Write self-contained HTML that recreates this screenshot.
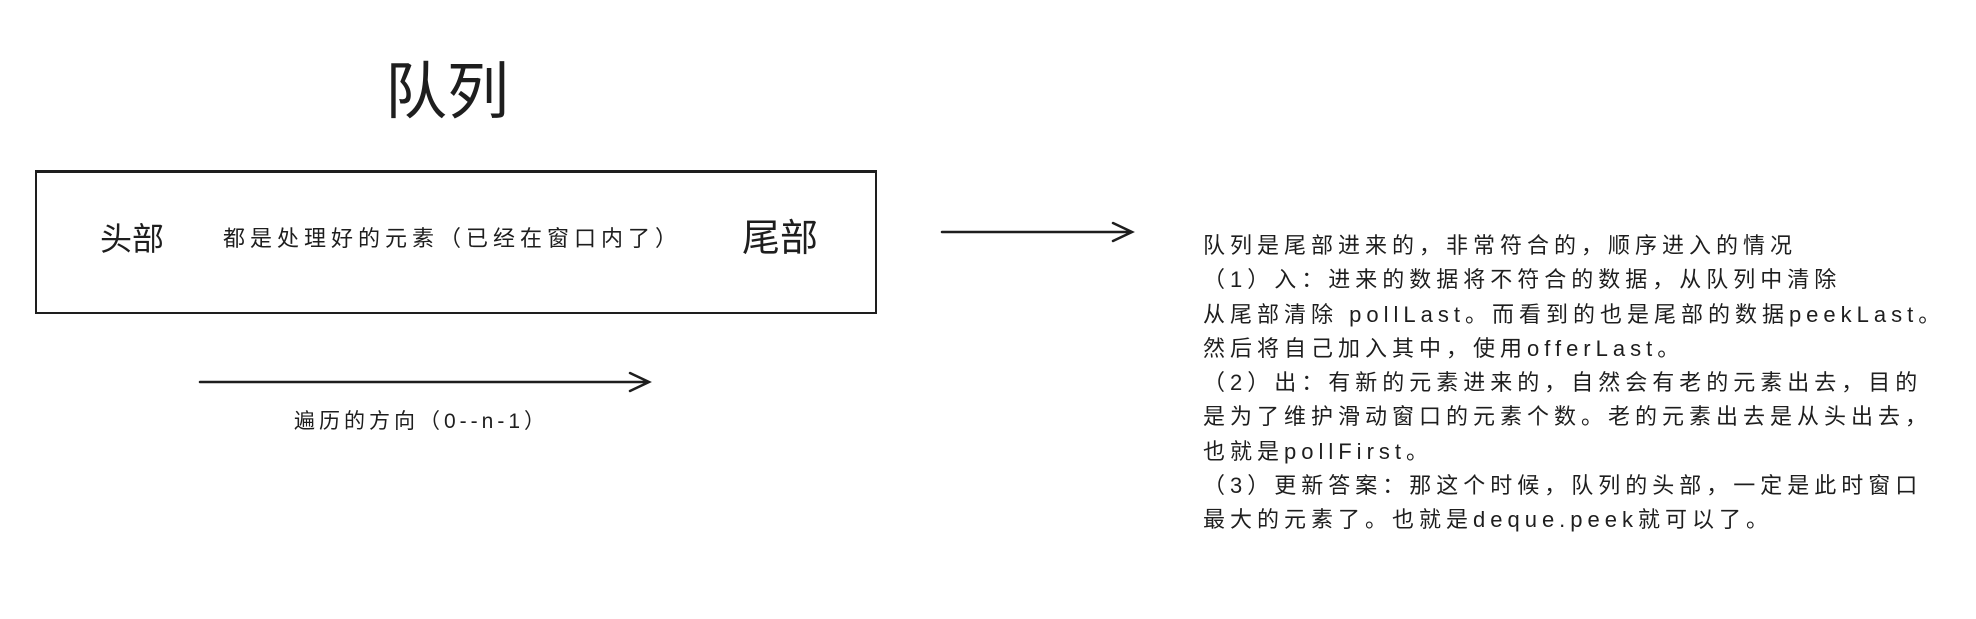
<!DOCTYPE html>
<html><head><meta charset="utf-8"><style>
body{margin:0;width:1976px;height:619px;background:#fff;position:relative;overflow:hidden;font-family:"Liberation Sans","Noto Sans CJK SC",sans-serif;color:#1e1e1e}
.t{position:absolute;white-space:nowrap;line-height:1}
</style></head><body>
<div class="t" style="left:385px;top:62px;font-size:62px">队列</div>
<div style="position:absolute;left:35px;top:170px;width:838px;height:139px;border:2px solid #1e1e1e;border-top-width:3px"></div>
<div class="t" style="left:100px;top:223px;font-size:32px">头部</div>
<div class="t" style="left:223px;top:228px;font-size:22px;letter-spacing:5px">都是处理好的元素（已经在窗口内了）</div>
<div class="t" style="left:742px;top:220px;font-size:38px">尾部</div>
<div class="t" style="left:294px;top:411px;font-size:21px;letter-spacing:4px">遍历的方向（0--n-1）</div>
<svg style="position:absolute;left:0;top:0" width="1976" height="619">
<g stroke="#1e1e1e" stroke-width="2.5" fill="none" stroke-linecap="round">
<path d="M200 382 L649 382 M630 373 L649 382 L630 391"/>
<path d="M942 232 L1132 232 M1113 223 L1132 232 L1113 241"/>
</g></svg>
<div class="t" style="left:1203px;top:229px;font-size:22px;line-height:34.3px;letter-spacing:5px">队列是尾部进来的，非常符合的，顺序进入的情况<br>（1）入：进来的数据将不符合的数据，从队列中清除<br>从尾部清除 pollLast。而看到的也是尾部的数据peekLast。<br>然后将自己加入其中，使用offerLast。<br>（2）出：有新的元素进来的，自然会有老的元素出去，目的<br>是为了维护滑动窗口的元素个数。老的元素出去是从头出去，<br>也就是pollFirst。<br>（3）更新答案：那这个时候，队列的头部，一定是此时窗口<br>最大的元素了。也就是deque.peek就可以了。</div>
</body></html>
